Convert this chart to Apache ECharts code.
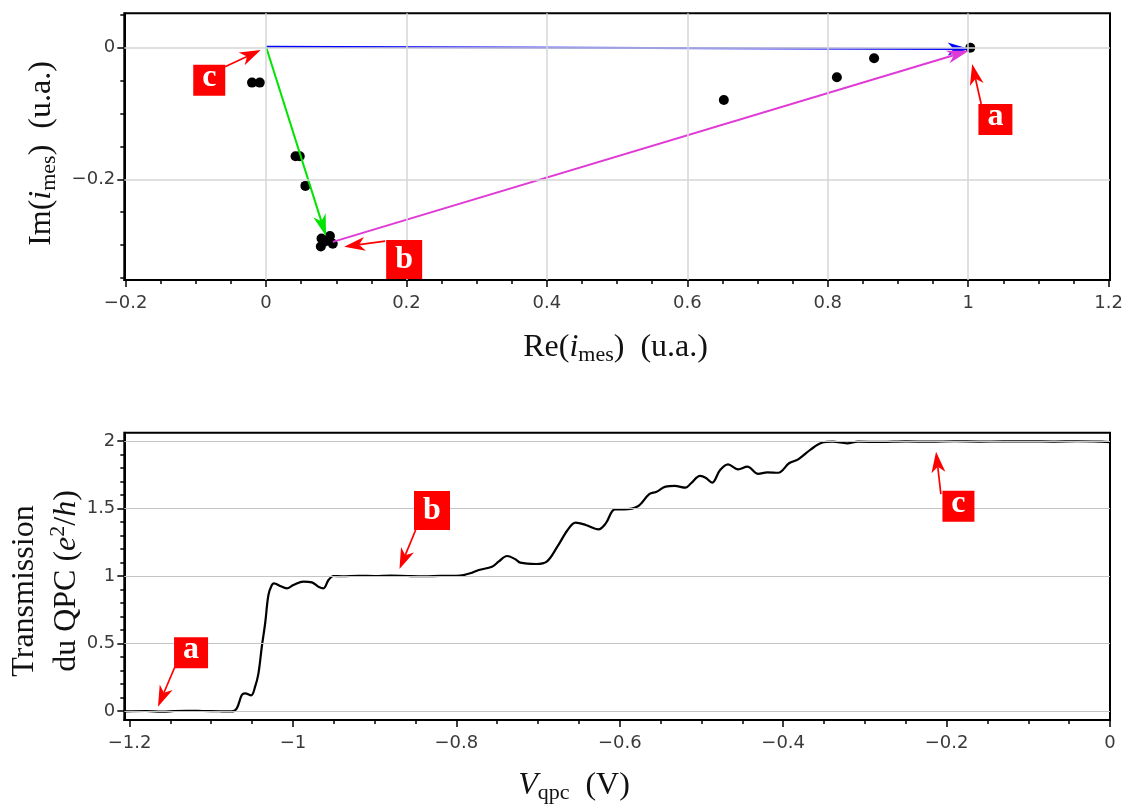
<!DOCTYPE html>
<html><head><meta charset="utf-8">
<script src="https://cdn.jsdelivr.net/npm/echarts@6/dist/echarts.min.js"></script>
<style>html,body{margin:0;padding:0;background:#fff}#c{width:1129px;height:809px}</style>
</head><body><div id="c"></div>
<script>
// ---------- data: top plot (complex plane) ----------
const reX = [-0.020, -0.009, 0.042, 0.048, 0.056, 0.078, 0.079, 0.083, 0.091, 0.095, 0.652, 0.813, 0.866, 1.003];
const imY = [-0.053, -0.053, -0.165, -0.165, -0.210, -0.302, -0.290, -0.295, -0.286, -0.298, -0.0795, -0.045, -0.016, 0.000];
// vectors c->a (blue), c->b (green), b->a (magenta)
const vecFrom = [[0.000, 0.0015], [0.000, 0.0015], [0.095, -0.295]];
const vecTo   = [[1.002, -0.002], [0.0855, -0.2865], [1.001, -0.0045]];
// annotation letters
const annoLetters = ['a', 'b', 'c'];
const topAnnoBox  = [[1.0388, -0.1091], [0.1967, -0.3219], [-0.0809, -0.0496]];
const topAnnoFrom = [[1.0185, -0.0856], [0.1696, -0.2938], [-0.0584, -0.0289]];
const topAnnoTo   = [[1.0057, -0.0248], [0.1112, -0.3024], [-0.0076, -0.0035]];
// ---------- data: bottom plot (QPC transmission) ----------
const qpcCurve = [
 [-1.205,-0.003],[-1.18,0.000],[-1.16,-0.005],[-1.145,0.000],[-1.13,0.002],[-1.11,0.000],[-1.09,-0.002],[-1.075,-0.003],
 [-1.0687,0.020],[-1.0626,0.118],[-1.0585,0.131],[-1.0512,0.116],[-1.0463,0.180],[-1.0422,0.279],[-1.0381,0.476],
 [-1.0340,0.650],[-1.0300,0.859],[-1.0258,0.933],[-1.0230,0.946],[-1.0157,0.926],[-1.0075,0.909],[-0.9994,0.933],
 [-0.9871,0.958],[-0.9769,0.953],[-0.9688,0.921],[-0.9626,0.909],[-0.9565,0.970],[-0.9504,1.000],[-0.94,0.998],
 [-0.92,1.002],[-0.90,1.000],[-0.88,1.003],[-0.86,1.000],[-0.84,0.998],[-0.82,1.001],[-0.80,1.002],[-0.7912,1.007],
 [-0.783,1.020],[-0.7725,1.044],[-0.7564,1.069],[-0.7483,1.106],[-0.738,1.148],[-0.7278,1.124],[-0.7217,1.099],
 [-0.7025,1.089],[-0.6894,1.106],[-0.6764,1.217],[-0.6638,1.341],[-0.6541,1.395],[-0.6416,1.378],[-0.6261,1.346],
 [-0.6171,1.390],[-0.6061,1.494],[-0.5950,1.494],[-0.5772,1.519],[-0.5639,1.607],[-0.5549,1.624],[-0.5439,1.662],
 [-0.5328,1.667],[-0.5194,1.654],[-0.5128,1.687],[-0.5017,1.741],[-0.4950,1.728],[-0.4870,1.691],[-0.4772,1.785],
 [-0.4675,1.827],[-0.4550,1.790],[-0.4439,1.810],[-0.4305,1.756],[-0.4195,1.768],[-0.4061,1.765],[-0.3928,1.835],
 [-0.3816,1.864],[-0.3661,1.938],[-0.3528,1.987],[-0.3395,1.995],[-0.3217,1.983],[-0.3084,1.995],[-0.28,1.993],
 [-0.25,1.997],[-0.22,1.995],[-0.19,1.998],[-0.16,1.996],[-0.13,1.997],[-0.10,1.998],[-0.07,1.996],[-0.04,1.998],
 [-0.01,1.995],[0.0,1.992]
];
const botAnnoBox  = [[-1.1247, 0.431], [-0.8298, 1.485], [-0.1855, 1.516]];
const botAnnoFrom = [[-1.1444, 0.328], [-0.8498, 1.341], [-0.2070, 1.607]];
const botAnnoTo   = [[-1.1652, 0.032], [-0.8696, 1.051], [-0.2129, 1.921]];
// ---------- ticks ----------
const topXTicks = [-0.2, 0, 0.2, 0.4, 0.6, 0.8, 1.0, 1.2];
const topXTickLabels = ['−0.2', '0', '0.2', '0.4', '0.6', '0.8', '1', '1.2'];
const topYTicks = [-0.2, 0];
const topYTickLabels = ['−0.2', '0'];
const botXTicks = [-1.2, -1.0, -0.8, -0.6, -0.4, -0.2, 0];
const botXTickLabels = ['−1.2', '−1', '−0.8', '−0.6', '−0.4', '−0.2', '0'];
const botYTicks = [0, 0.5, 1, 1.5, 2];
const botYTickLabels = ['0', '0.5', '1', '1.5', '2'];

function steps(a, b, s) { const r = []; for (let k = 0; a + k * s <= b + 1e-9; k++) r.push(Math.round((a + k * s) * 1000) / 1000); return r; }
const topXMinor = steps(-0.2, 1.2, 0.05);
const topYMinor = steps(-0.35, 0.05, 0.05);
const botXMinor = steps(-1.2, 0, 0.05);
const botYMinor = steps(0, 2, 0.1);

// axis ranges (frame extents)
const topXRange = [-0.2019, 1.202], topYRange = [-0.353, 0.0523];
const botXRange = [-1.2064, 0], botYRange = [-0.0667, 2.0615];

const LBL = { fontFamily: 'DejaVu Sans', fontSize: 18, color: '#3a3a3a' };
function fmt(ticks, labels) { return function (v) { for (let i = 0; i < ticks.length; i++) if (Math.abs(v - ticks[i]) < 1e-6) return labels[i]; return ''; }; }
function mainAxis(dim, grid, range, ticks, labels, pos) {
  return { type: 'value', gridIndex: grid, position: pos, min: range[0], max: range[1],
    axisLine: { show: true, onZero: false, lineStyle: { color: '#000', width: 2 } },
    axisTick: { show: true, inside: false, length: 7, customValues: ticks, lineStyle: { color: '#000', width: 1.5 } },
    axisLabel: Object.assign({ show: true, customValues: ticks, formatter: fmt(ticks, labels), margin: dim === 'x' ? 14 : 9 }, LBL),
    splitLine: { show: false }, minorTick: { show: false }, minorSplitLine: { show: false } };
}
function minorAxis(grid, range, ticks, pos) {
  return { type: 'value', gridIndex: grid, position: pos, min: range[0], max: range[1],
    axisLine: { show: false, onZero: false },
    axisTick: { show: true, inside: false, length: 4, customValues: ticks, lineStyle: { color: '#000', width: 1.5 } },
    axisLabel: { show: false }, splitLine: { show: false } };
}
function arrowRender(colors, headLen, headW, lw) {
  return function (params, api) {
    const p1 = api.coord([api.value(0), api.value(1)]);
    const p2 = api.coord([api.value(2), api.value(3)]);
    const dx = p2[0] - p1[0], dy = p2[1] - p1[1], L = Math.hypot(dx, dy);
    const ux = dx / L, uy = dy / L, nx = -uy, ny = ux;
    const c = colors[params.dataIndex % colors.length];
    const bx = p2[0] - ux * headLen, by = p2[1] - uy * headLen;
    const mx = p2[0] - ux * headLen * 0.72, my = p2[1] - uy * headLen * 0.72;
    return { type: 'group', children: [
      { type: 'line', shape: { x1: p1[0], y1: p1[1], x2: mx, y2: my }, style: { stroke: c, lineWidth: lw, opacity: 1 } },
      { type: 'polygon', shape: { points: [[p2[0], p2[1]], [bx + nx * headW / 2, by + ny * headW / 2], [mx, my], [bx - nx * headW / 2, by - ny * headW / 2]] }, style: { fill: c, opacity: 1 } }
    ] };
  };
}
const boxSize = { a: [34, 31], b: [36, 39], c: [32, 31] };
const boxTextDy = { a: -3, b: 0, c: -3 };
function boxRender(params, api) {
  const p = api.coord([api.value(0), api.value(1)]);
  const L = annoLetters[api.value(2)];
  const s = boxSize[L];
  return { type: 'group', children: [
    { type: 'rect', shape: { x: p[0] - s[0] / 2, y: p[1] - s[1] / 2, width: s[0], height: s[1] }, style: { fill: '#ff0000' } },
    { type: 'text', x: p[0], y: p[1] + boxTextDy[L], style: { text: L, fill: '#fff', font: 'bold 32px "Liberation Serif"', align: 'center', verticalAlign: 'middle' } }
  ] };
}
function pairs(a, b) { return a.map((p, i) => [p[0], p[1], b[i][0], b[i][1]]); }

const serif = 'Liberation Serif';
const R = { fontFamily: serif, fontSize: 32, fill: '#111' };
const rich = {
  r: R,
  i: Object.assign({}, R, { fontStyle: 'italic' }),
  s: { fontFamily: serif, fontSize: 22, fill: '#111', padding: [16, 0, 0, 0] },
  p: { fontFamily: serif, fontSize: 22, fill: '#111', padding: [0, 0, 16, 0] }
};
function title(text, x, y, rot) {
  return { type: 'text', x: x, y: y, rotation: rot || 0, z: 100,
    style: { text: text, rich: rich, align: 'center', verticalAlign: 'middle', fontFamily: serif, fontSize: 32, fill: '#111' } };
}

const option = {
  animation: false,
  backgroundColor: '#fff',
  grid: [
    { left: 124.3, right: 19, top: 13.3, bottom: 529, show: true, borderColor: '#000', borderWidth: 2, backgroundColor: 'transparent', containLabel: false, outerBoundsMode: 'none' },
    { left: 124.3, right: 19, top: 432.7, bottom: 89, show: true, borderColor: '#000', borderWidth: 2, backgroundColor: 'transparent', containLabel: false, outerBoundsMode: 'none' }
  ],
  xAxis: [
    mainAxis('x', 0, topXRange, topXTicks, topXTickLabels, 'bottom'),
    minorAxis(0, topXRange, topXMinor, 'bottom'),
    mainAxis('x', 1, botXRange, botXTicks, botXTickLabels, 'bottom'),
    minorAxis(1, botXRange, botXMinor, 'bottom')
  ],
  yAxis: [
    mainAxis('y', 0, topYRange, topYTicks, topYTickLabels, 'left'),
    minorAxis(0, topYRange, topYMinor, 'left'),
    mainAxis('y', 1, botYRange, botYTicks, botYTickLabels, 'left'),
    minorAxis(1, botYRange, botYMinor, 'left')
  ],
  graphic: [
    title('{r|Re(}{i|i}{s|mes}{r|)  (u.a.)}', 615.6, 347.5),
    title('{r|Im(}{i|i}{s|mes}{r|)  (u.a.)}', 41.5, 153.5, Math.PI / 2),
    title('{i|V}{s|qpc}{r|  (V)}', 574, 785.5),
    title('{r|Transmission}', 25, 591, Math.PI / 2),
    title('{r|du QPC (}{i|e}{p|2}{r|/}{i|h}{r|)}', 66.5, 581, Math.PI / 2)
  ],
  series: [
    { type: 'line', xAxisIndex: 0, yAxisIndex: 0, data: [], silent: true, z: 1,
      markLine: { silent: true, symbol: 'none', label: { show: false }, animation: false,
        lineStyle: { color: '#d6d6d6', width: 1.5, type: 'solid' },
        data: topXTicks.filter(v => v > topXRange[0] + 0.01 && v < topXRange[1] - 0.01).map(v => ({ xAxis: v }))
          .concat(topYTicks.map(v => ({ yAxis: v }))) } },
    { type: 'scatter', xAxisIndex: 0, yAxisIndex: 0, z: 2, symbol: 'circle', symbolSize: 10,
      itemStyle: { color: '#000', opacity: 1 }, data: reX.map((x, i) => [x, imY[i]]) },
    { type: 'custom', xAxisIndex: 0, yAxisIndex: 0, z: 3, encode: { x: [0, 2], y: [1, 3] },
      renderItem: arrowRender(['#0000ff', '#00e400', '#e03ad6'], 22, 13, 2), data: pairs(vecFrom, vecTo) },
    { type: 'custom', xAxisIndex: 0, yAxisIndex: 0, z: 4, encode: { x: [0, 2], y: [1, 3] },
      renderItem: arrowRender(['#ff0000'], 21, 14, 1.7), data: pairs(topAnnoFrom, topAnnoTo) },
    { type: 'custom', xAxisIndex: 0, yAxisIndex: 0, z: 5, encode: { x: 0, y: 1 },
      renderItem: boxRender, data: topAnnoBox.map((p, i) => [p[0], p[1], i]) },

    { type: 'line', xAxisIndex: 2, yAxisIndex: 2, data: [], silent: true, z: 1,
      markLine: { silent: true, symbol: 'none', label: { show: false }, animation: false,
        lineStyle: { color: '#c4c4c4', width: 1.2, type: 'solid' },
        data: botYTicks.map(v => ({ yAxis: v })) } },
    { type: 'line', xAxisIndex: 2, yAxisIndex: 2, z: 2, showSymbol: false, symbol: 'none', smooth: 0.35,
      lineStyle: { color: '#000', width: 2.2 }, data: qpcCurve },
    { type: 'custom', xAxisIndex: 2, yAxisIndex: 2, z: 4, encode: { x: [0, 2], y: [1, 3] },
      renderItem: arrowRender(['#ff0000'], 21, 14, 1.7), data: pairs(botAnnoFrom, botAnnoTo) },
    { type: 'custom', xAxisIndex: 2, yAxisIndex: 2, z: 5, encode: { x: 0, y: 1 },
      renderItem: boxRender, data: botAnnoBox.map((p, i) => [p[0], p[1], i]) }
  ]
};
const chart = echarts.init(document.getElementById('c'), null, { renderer: 'canvas' });
chart.setOption(option);
</script></body></html>
